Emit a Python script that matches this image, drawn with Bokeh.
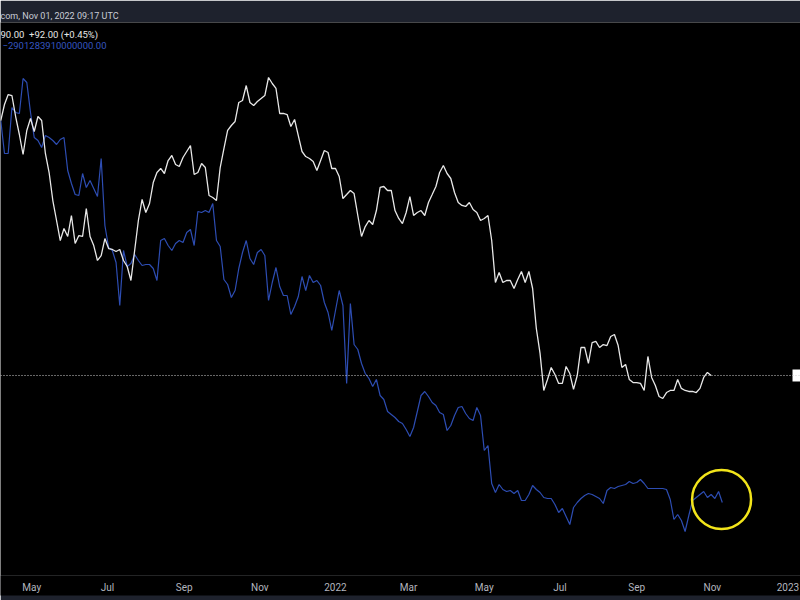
import pandas as pd
from bokeh.plotting import figure
from bokeh.models import Range1d, FixedTicker, Span, Label, LinearScale
from bokeh.embed import file_html
from bokeh.resources import INLINE

# ---------------- data ----------------
series_start = "2021-04-06"
series_step = "3D"

# white line: BTC daily close (USD), sampled every 3 days
btc_close = [
    56820, 60580, 63050, 62800, 57740, 53730, 49600, 54600, 57280, 54380,
    57740, 56820, 49800, 46150, 41260, 38090, 35160, 36890, 35730, 38860,
    34740, 35870, 35730, 39960, 35730, 34460, 32460, 33110, 35440, 34050,
    33920, 33650, 33920, 32460, 31690, 29960, 33780, 38090, 41430, 39330,
    40770, 44340, 46150, 46900, 45970, 48420, 49400, 47650, 47270, 49010,
    50200, 51410, 45780, 46150, 47840, 47080, 42090, 41760, 41260, 47080,
    50800, 54600, 55700, 56600, 61070, 61560, 65360, 61070, 60340, 61320,
    62060, 62800, 67490, 65890, 64590, 58440, 58440, 58200, 55480, 57050,
    53510, 50200, 49200, 48810, 48230, 46520, 48420, 50400, 50000, 46900,
    46900, 45420, 41590, 42260, 42950, 42430, 38860, 35730, 37180, 38090,
    37480, 39640, 43470, 43640, 42950, 42950, 39640, 38400, 37630, 39330,
    41920, 38860, 39330, 39640, 38860, 40940, 42260, 43640, 46150, 47460,
    45970, 45060, 42610, 40940, 40450, 40290, 40940, 39800, 39330, 38090,
    38400, 38860, 35160, 29720, 30940, 29720, 29960, 29960, 29020, 30080,
    31070, 29720, 31070, 29020, 24730, 22380, 19300, 20160, 21160, 20570,
    19850, 19850, 21240, 20650, 19380, 20490, 22920, 22920, 21500, 23380,
    23480, 22920, 23190, 23100, 23950, 24140, 23100, 21160, 21420, 20160,
    19920, 19920, 19850, 19300, 22110, 20330, 19690, 18840, 18690, 19140,
    19300, 19300, 20160, 19460, 19300, 19220, 19220, 19140, 19460, 20330,
    20740, 20490,
]

# blue line: second metric (relative units), sampled every 3 days
blue_metric = [
    480, 447, 447, 493, 488, 487, 522, 518, 488, 463,
    460, 453, 465, 463, 460, 456, 461, 463, 430, 417,
    406, 405, 427, 413, 420, 412, 404, 442, 375, 353,
    350, 338, 295, 350, 334, 337, 346, 340, 335, 336,
    336, 332, 320, 360, 362, 355, 350, 357, 360, 358,
    368, 371, 355, 389, 388, 390, 388, 397, 360, 354,
    321, 316, 303, 310, 332, 348, 360, 342, 336, 348,
    351, 345, 300, 318, 333, 314, 305, 305, 286, 294,
    304, 324, 310, 325, 318, 320, 315, 298, 288, 270,
    290, 310, 295, 217, 297, 256, 251, 237, 227, 222,
    214, 221, 205, 201, 189, 186, 183, 179, 177, 171,
    164, 173, 189, 205, 209, 204, 198, 195, 188, 186,
    170, 175, 185, 193, 194, 187, 182, 180, 193, 185,
    150, 155, 117, 108, 116, 111, 109, 110, 107, 110,
    100, 100, 106, 115, 111, 108, 103, 102, 102, 96,
    88, 92, 84, 76, 93, 98, 102, 105, 107, 106,
    104, 102, 97, 110, 113, 112, 114, 115, 116, 119,
    117, 118, 121, 117, 112, 112, 112, 112, 112, 111,
    101, 81, 86, 80, 69, 85, 100, 103, 106, 109,
    103, 106, 102, 109, 98,
]

tick_dates = ["2021-05-01", "2021-07-01", "2021-09-01", "2021-11-01", "2022-01-01",
              "2022-03-01", "2022-05-01", "2022-07-01", "2022-09-01", "2022-11-01",
              "2023-01-01"]
tick_labels = ["May", "Jul", "Sep", "Nov", "2022", "Mar", "May", "Jul", "Sep", "Nov", "2023"]

highlight_date = "2022-11-08 10:00"
highlight_level = 101

header_text = "com, Nov 01, 2022 09:17 UTC"
quote_text = "90.00\u00a0\u00a0+92.00 (+0.45%)"
metric_text = "\u22122901283910000000.00"

view_start = "2021-04-05 19:00"
view_end = "2023-01-11 02:00"

# ---------------- figure ----------------
white_dates = pd.date_range(series_start, periods=len(btc_close), freq=series_step)
blue_dates = pd.date_range(series_start, periods=len(blue_metric), freq=series_step)

BG = "black"
BAND = "#1e222d"

p = figure(width=800, height=600, x_axis_type="datetime", y_axis_type="log",
           x_range=Range1d(pd.Timestamp(view_start), pd.Timestamp(view_end)),
           y_range=Range1d(9206, 84100),
           output_backend="svg", toolbar_location=None, y_axis_location=None,
           background_fill_color=BG, border_fill_color=BAND,
           min_border_left=0, min_border_right=0, min_border_top=22, min_border_bottom=25)
p.extra_y_ranges = {"metric": Range1d(25, 578)}
p.extra_y_scales = {"metric": LinearScale()}
p.grid.visible = False
p.outline_line_color = None

p.title.text = header_text
p.title.align = "left"
p.title.offset = 0
p.title.standoff = 4
p.title.text_font = "Roboto"
p.title.text_font_size = "9px"
p.title.text_font_style = "normal"
p.title.text_color = "#c9ccd6"

p.line(blue_dates, blue_metric, y_range_name="metric", line_color="#2d4db3", line_width=1.2)
p.line(white_dates, btc_close, line_color="#e8e8e8", line_width=1.3)

p.add_layout(Span(location=btc_close[-1], dimension="width", line_color="#d0d0d0",
                  line_dash="1 2", line_width=1))

p.rect(x=[pd.Timestamp(view_end)], y=[btc_close[-1]], width=16, height=12,
       width_units="screen", height_units="screen", fill_color="white", line_color=None)

p.scatter(x=[pd.Timestamp(highlight_date)], y=[highlight_level], y_range_name="metric",
          marker="circle", size=59, fill_alpha=0, line_color="#f2e41a", line_width=2.5)

ax = p.xaxis[0]
ticks = [pd.Timestamp(d).value / 1e6 for d in tick_dates]
ax.ticker = FixedTicker(ticks=ticks)
ax.major_label_overrides = {t: l for t, l in zip(ticks, tick_labels)}
ax.major_label_text_color = "#b2b5be"
ax.major_label_text_font = "Roboto"
ax.major_label_text_font_size = "10px"
ax.axis_line_color = None
ax.major_tick_line_color = None
ax.minor_tick_line_color = None
ax.major_tick_out = 0
ax.major_tick_in = 0
ax.major_label_standoff = 6
ax.background_fill_color = BG

# frame is 553 px tall; label y is measured from the frame bottom
p.add_layout(Label(x=0, y=541, x_units="screen", y_units="screen", text=quote_text,
                   text_color="#e6e6e6", text_font="Roboto", text_font_size="9.5px",
                   text_baseline="middle"))
p.add_layout(Label(x=2, y=530, x_units="screen", y_units="screen", text=metric_text,
                   text_color="#3556c0", text_font="Roboto", text_font_size="9.5px",
                   text_baseline="middle"))

open("out.html", "w").write(file_html(p, INLINE))
